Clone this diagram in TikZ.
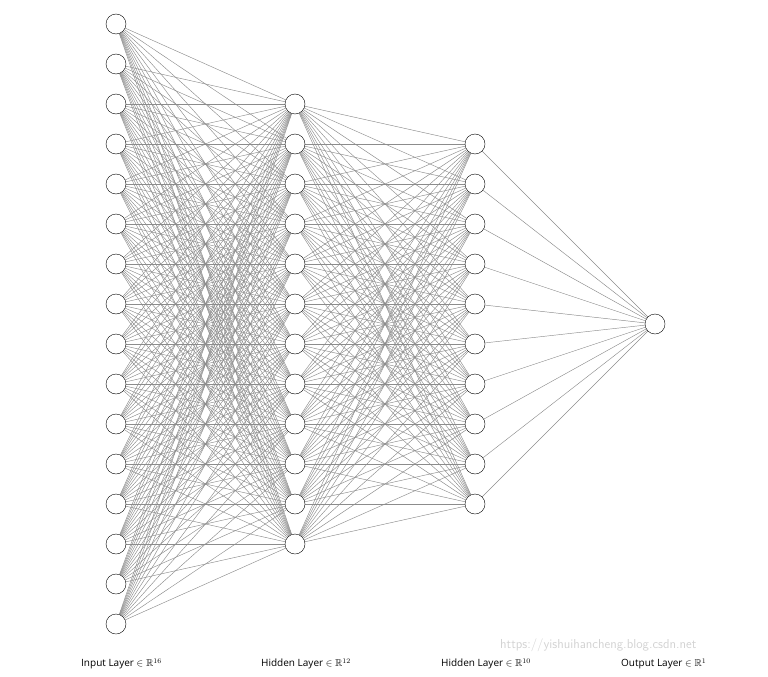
\documentclass[tikz,border=0pt]{standalone}
\usepackage{amssymb}
\usepackage{fontspec}
\setmainfont{Open Sans}
\usetikzlibrary{calc,positioning,backgrounds}

\begin{document}
\begin{tikzpicture}[
  x=1pt, y=-1pt,
  neuron/.style={circle,draw=black,fill=white,thin,minimum size=20pt,inner sep=0pt},
  synapse/.style={draw=gray!90,line width=.45pt},
  layer label/.style={anchor=west,font=\fontsize{10}{12}\selectfont,inner sep=0pt},
  ]

  \useasboundingbox (0,0) rectangle (768,677);

  % neurons of the four layers
  \foreach \i in {1,...,16}
    \node (input_\i) [neuron] at (116,{24+40*(\i-1)}) {};
  \foreach \i in {1,...,12}
    \node (hidden_a_\i) [neuron] at (295,{104+40*(\i-1)}) {};
  \foreach \i in {1,...,10}
    \node (hidden_b_\i) [neuron] at (475,{144+40*(\i-1)}) {};
  \node (output_1) [neuron] at (655,324) {};

  % connections
  \begin{scope}[on background layer]
  \foreach \i in {1,...,16}
    \foreach \j in {1,...,12}
      \draw[synapse] (input_\i) -- (hidden_a_\j);
  \foreach \i in {1,...,12}
    \foreach \j in {1,...,10}
      \draw[synapse] (hidden_a_\i) -- (hidden_b_\j);
  \foreach \i in {1,...,10}
    \draw[synapse] (hidden_b_\i) -- (output_1);
  \end{scope}

  % layer names
  \node (label_input) [layer label] at (81,664) {Input Layer $\in\mathbb{R}^{16}$};
  \node (label_hidden_a) [layer label] at (261,664) {Hidden Layer $\in\mathbb{R}^{12}$};
  \node (label_hidden_b) [layer label] at (441,664) {Hidden Layer $\in\mathbb{R}^{10}$};
  \node (label_output) [layer label] at (621,664) {Output Layer $\in\mathbb{R}^{1}$};

  %\node [anchor=west] at (498,661) {watermark};
  \node (watermark) [anchor=west,inner sep=0pt,text=gray!35,font=\fontsize{13}{15}\selectfont\sffamily] at (500,645) {https://yishuihancheng.blog.csdn.net};

\end{tikzpicture}
\end{document}
